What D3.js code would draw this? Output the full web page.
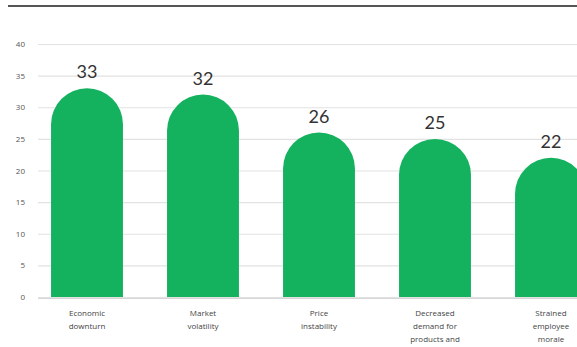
<!DOCTYPE html>
<html>
<head>
<meta charset="utf-8">
<script src="https://cdn.jsdelivr.net/npm/d3@7"></script>
<style>
  html, body { margin: 0; padding: 0; background: #fff; }
  svg { display: block; }
</style>
</head>
<body>
<svg id="chart" width="577" height="347"></svg>
<script>
// Data
const categories = [
  ["Economic", "downturn"],
  ["Market", "volatility"],
  ["Price", "instability"],
  ["Decreased", "demand for", "products and"],
  ["Strained", "employee", "morale"]
];
const values = [33, 32, 26, 25, 22];
const yTicks = [0, 5, 10, 15, 20, 25, 30, 35, 40];

const svg = d3.select("#chart");
const W = 577, H = 347;

const x = d3.scaleBand()
  .domain(d3.range(categories.length))
  .range([29, 609])
  .paddingInner(0.38)
  .paddingOuter(0.19);

const y = d3.scaleLinear().domain([0, 40]).range([297, 44]);

// Top rule
svg.append("line")
  .attr("x1", 8).attr("x2", W)
  .attr("y1", 6).attr("y2", 6)
  .attr("stroke", "#555").attr("stroke-width", 2);

// Gridlines and y tick labels
const yAxis = d3.axisLeft(y).tickValues(yTicks).tickSize(-(W - 38)).tickPadding(13);
const gy = svg.append("g").attr("transform", "translate(38,0)").call(yAxis);
gy.select(".domain").remove();
gy.selectAll(".tick line").attr("stroke", "#e2e2e2").attr("stroke-width", 1.2);
gy.selectAll(".tick text")
  .attr("fill", "#555")
  .style("font-family", "'Open Sans', sans-serif")
  .style("font-size", "8px");

// Baseline
svg.append("line")
  .attr("x1", 38).attr("x2", W)
  .attr("y1", y(0) + 1.5).attr("y2", y(0) + 1.5)
  .attr("stroke", "#d6d6d6").attr("stroke-width", 1);

// Bars with a rounded (semicircular) top
const bw = x.bandwidth();
const r = bw / 2;
function barPath(i, v) {
  const x0 = x(i), x1 = x0 + bw;
  const top = y(v), base = y(0);
  return `M${x0},${base} L${x0},${top + r} A${r},${r} 0 0 1 ${x1},${top + r} L${x1},${base} Z`;
}
svg.append("g").selectAll("path")
  .data(values)
  .join("path")
  .attr("d", (v, i) => barPath(i, v))
  .attr("fill", "#14b25f");

// Value labels
svg.append("g").selectAll("text")
  .data(values)
  .join("text")
  .attr("x", (v, i) => x(i) + bw / 2)
  .attr("y", v => y(v) - 10)
  .attr("text-anchor", "middle")
  .attr("fill", "#333")
  .style("font-family", "Lato, 'Open Sans', sans-serif")
  .style("font-size", "18px")
  .text(v => v);

// Category labels
const cat = svg.append("g").selectAll("text")
  .data(categories)
  .join("text")
  .attr("x", (c, i) => x(i) + bw / 2)
  .attr("y", 316)
  .attr("text-anchor", "middle")
  .attr("fill", "#444")
  .style("font-family", "'Open Sans', sans-serif")
  .style("font-size", "8px");
cat.selectAll("tspan")
  .data(d => d)
  .join("tspan")
  .attr("x", function () { return d3.select(this.parentNode).attr("x"); })
  .attr("dy", (d, j) => j === 0 ? 0 : 13)
  .text(d => d);
</script>
</body>
</html>
